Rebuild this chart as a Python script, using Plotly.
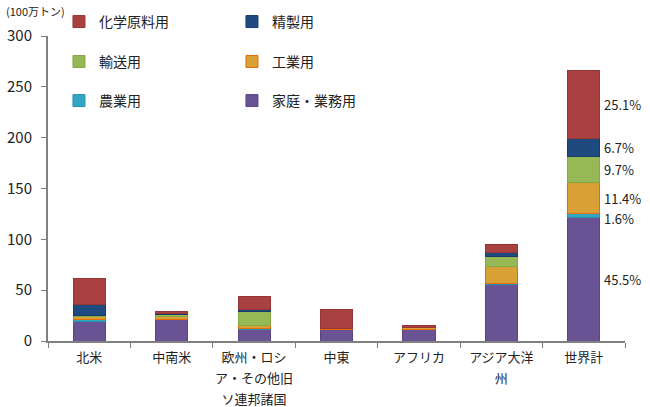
import plotly.graph_objects as go

FONT = "Noto Sans CJK JP, Noto Sans, Arial, sans-serif"
TEXT_COLOR = "#222222"
AXIS_COLOR = "#808080"

regions = [
    "北米",
    "中南米",
    "欧州・ロシ<br>ア・その他旧<br>ソ連邦諸国",
    "中東",
    "アフリカ",
    "アジア大洋<br>州",
    "世界計",
]

# values in 100万トン (bottom segment first)
household = [19.5, 21.0, 11.5, 11.0, 11.5, 56.0, 121.0]
agriculture = [1.5, 0.5, 0.5, 0.7, 0.3, 0.7, 4.3]
industry = [3.5, 2.5, 3.5, 0.3, 1.0, 17.0, 30.3]
transport = [0.8, 2.0, 14.0, 0.2, 0.2, 9.2, 25.7]
refining = [11.0, 1.0, 1.5, 0.3, 0.3, 4.3, 17.8]
chemical = [25.5, 2.5, 12.5, 18.0, 1.5, 8.2, 66.7]

world_share_labels = ["45.5%", "1.6%", "11.4%", "9.7%", "6.7%", "25.1%"]

series = [
    # name, values, fill, outline, legend, rank
    ("家庭・業務用", household, "#6A5394", "#5A4582", "legend3", 2),
    ("農業用", agriculture, "#31A5C4", "#2A93AF", "legend3", 1),
    ("工業用", industry, "#D9A035", "#E46C0A", "legend2", 2),
    ("輸送用", transport, "#97B955", "#86A847", "legend2", 1),
    ("精製用", refining, "#1F4A80", "#193D6B", "legend", 2),
    ("化学原料用", chemical, "#A94141", "#963535", "legend", 1),
]

fig = go.Figure()
for name, values, fill, outline, legend, rank in series:
    fig.add_trace(
        go.Bar(
            x=regions,
            y=values,
            name=name,
            legend=legend,
            legendrank=rank,
            marker={
                "color": fill,
                "line": {"color": outline, "width": 1},
            },
        )
    )

# share labels next to the world bar, at each segment's middle
world = [s[1][-1] for s in series]
base = 0
for value, label in zip(world, world_share_labels):
    fig.add_annotation(
        x=regions[-1],
        y=base + value / 2,
        text=label,
        showarrow=False,
        xanchor="left",
        xshift=18,
        yshift=-3 if label == "1.6%" else 0,
        font={"size": 13, "color": TEXT_COLOR, "family": FONT},
    )
    base += value

fig.add_annotation(
    x=0,
    y=1,
    xref="paper",
    yref="paper",
    xshift=-44,
    yshift=35,
    text="(100万トン)",
    showarrow=False,
    xanchor="left",
    yanchor="top",
    font={"size": 11, "color": TEXT_COLOR, "family": FONT},
)

legend_style = {
    "orientation": "h",
    "xanchor": "left",
    "yanchor": "middle",
    "x": 0.019,
    "traceorder": "normal",
    "bgcolor": "rgba(0,0,0,0)",
    "entrywidth": 128,
    "entrywidthmode": "pixels",
    "font": {"size": 14, "color": TEXT_COLOR, "family": FONT},
    "itemwidth": 30,
}


def small_lines(label):
    # bigger tick font only sets the line spacing; the glyphs are drawn at 13px
    return "<br>".join(
        f'<span style="font-size:13px;color:{TEXT_COLOR}">{line}</span>'
        for line in label.split("<br>")
    )


fig.update_layout(
    width=650,
    height=407,
    barmode="stack",
    bargap=0.61,
    paper_bgcolor="white",
    plot_bgcolor="white",
    margin={"l": 48, "r": 25, "t": 36, "b": 66, "autoexpand": False},
    font={"family": FONT, "color": TEXT_COLOR},
    legend={**legend_style, "y": 1.046},
    legend2={**legend_style, "y": 0.915},
    legend3={**legend_style, "y": 0.787},
)
fig.update_xaxes(
    range=[-0.5, 6.5],
    tickmode="array",
    tickvals=regions,
    ticktext=[small_lines(r) for r in regions],
    tickangle=0,
    showline=True,
    linecolor=AXIS_COLOR,
    linewidth=2,
    ticks="outside",
    tickson="boundaries",
    ticklen=5,
    tickcolor=AXIS_COLOR,
    tickfont={"size": 16, "color": TEXT_COLOR},
    showgrid=False,
    automargin=False,
)
fig.update_yaxes(
    range=[0, 300],
    dtick=50,
    showline=True,
    linecolor=AXIS_COLOR,
    linewidth=2,
    ticks="outside",
    ticklen=5,
    tickcolor=AXIS_COLOR,
    ticklabelstandoff=6,
    tickfont={"size": 15, "color": TEXT_COLOR},
    showgrid=False,
    zeroline=False,
    automargin=False,
)

# the page's default body margin would push the 650x407 figure off the window
fig.write_html(
    "out.html",
    config={"displayModeBar": False},
    post_script=(
        "document.body.style.margin = '0';"
        "document.body.style.userSelect = 'none';"
    ),
)
